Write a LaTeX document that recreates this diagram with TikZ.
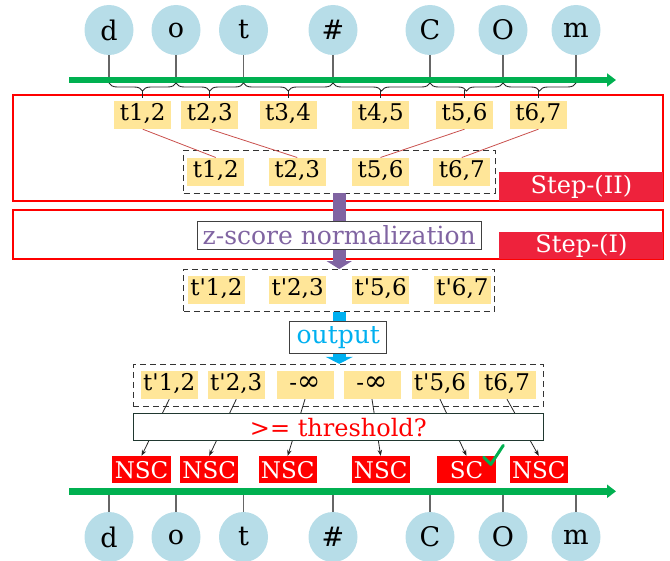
\documentclass[tikz,border=0pt]{standalone}
\usepackage{fontspec}
\setmainfont{DejaVu Serif}
\usetikzlibrary{arrows.meta,decorations.pathreplacing,shapes.geometric}

\definecolor{bubble}{HTML}{B7DDE8}
\definecolor{railgreen}{HTML}{00B050}
\definecolor{tokfill}{HTML}{FFE699}
\definecolor{steplabel}{RGB}{238,34,60}
\definecolor{normpurple}{HTML}{8064A2}
\definecolor{outcyan}{HTML}{00B0F0}
\definecolor{pairline}{HTML}{C9504D}
\definecolor{boxgray}{HTML}{404040}
\definecolor{threshborder}{HTML}{203830}

\newcommand\neginf{-{\fontsize{28}{28}\selectfont ∞}}

\begin{document}
\begin{tikzpicture}[x=1pt,y=-1pt,
  letter/.style={ellipse, fill=bubble, minimum width=49pt, minimum height=50pt,
    inner sep=0pt, font=\fontsize{27}{29}\selectfont},
  stem/.style={draw=black!60, line width=1.1pt},
  rail/.style={draw=railgreen, line width=6.5pt, -{Triangle[length=9pt,width=13pt]}},
  pairbrace/.style={draw=black!85, line width=0.9pt, decorate,
    decoration={brace, mirror, amplitude=8pt}},
  tick/.style={draw=black!85, line width=0.9pt},
  tok/.style={fill=tokfill, minimum width=57pt, minimum height=28pt, inner sep=0pt,
    text height=16pt, text depth=5pt, font=\fontsize{23}{25}\selectfont},
  stepframe/.style={draw=red, line width=1.3pt},
  steptag/.style={fill=steplabel, text=white, inner sep=0pt,
    font=\fontsize{24}{26}\selectfont},
  dashbox/.style={draw=black!80, dash pattern=on 6pt off 4pt, line width=0.9pt},
  pairlink/.style={draw=pairline, line width=0.8pt},
  normarrow/.style={draw=normpurple, line width=13pt, -{Triangle[length=8pt,width=25pt]}},
  outarrow/.style={draw=outcyan, line width=13pt, -{Triangle[length=7pt,width=27pt]}},
  labelbox/.style={draw=boxgray, fill=white, line width=1pt, inner sep=0pt,
    font=\fontsize{25}{27}\selectfont},
  threshbox/.style={draw=threshborder, fill=white, line width=1pt, inner sep=0pt,
    text=red, font=\fontsize{24}{26}\selectfont},
  judge/.style={draw=black!85, line width=0.8pt, -{Stealth[length=6pt,width=4.5pt]}},
  verdict/.style={fill=red, text=white, minimum width=58.4pt, minimum height=27.3pt,
    inner sep=0pt, font=\fontsize{23}{25}\selectfont},
  checkmark/.style={draw=railgreen, line width=3pt, line cap=round, line join=round}
]
\useasboundingbox (0,0) rectangle (670,561);

% character bubbles above and below the two rails
\foreach \n/\x/\c in {1/109/d,2/176/o,3/243.5/t,4/333/\#,5/430/C,6/503/O,7/576/m}{
  \node[letter] (a\n) at (\x,30) {\c};
  \node[letter] (b\n) at (\x,537) {\c};
}

% rails
\coordinate (ra0) at (69,80);   \coordinate (ra1) at (616,80);
\coordinate (rb0) at (69,491.3); \coordinate (rb1) at (616,491.3);
\coordinate (braceline) at (0,83);
\foreach \n in {1,...,7}{
  \draw[stem] (a\n.south) -- (a\n.south |- ra0);
  \draw[stem] (b\n.north) -- (b\n.north |- rb0);
}
\draw[rail] (ra0) -- (ra1);
\draw[rail] (rb0) -- (rb1);

% braces grouping neighbouring characters
\foreach \i/\j in {1/2,2/3,3/4,4/5,5/6,6/7}
  \draw[pairbrace] (a\i.south |- braceline) -- (a\j.south |- braceline);

% Step-(II): bigram scores and selection
\node[stepframe, minimum width=650pt, minimum height=106pt] (frame2) at (338,148) {};
\node[steptag, minimum width=164pt, minimum height=29pt, anchor=south east]
  (tag2) at (frame2.south east) {Step-(II)};

\node[tok] (p12) at (142.7,115) {t1,2};
\node[tok] (p23) at (209.9,115) {t2,3};
\node[tok] (p34) at (288,115)   {t3,4};
\node[tok] (p45) at (380.8,115) {t4,5};
\node[tok] (p56) at (464.5,115) {t5,6};
\node[tok] (p67) at (538.4,115) {t6,7};

\foreach \k in {12,23,34,45,56,67}
  \draw[tick] (p\k.north) ++(0,-3) -- ++(0,-8);

\node[dashbox, minimum width=311.5pt, minimum height=42.5pt] (g1) at (339.25,171.75) {};
\node[tok] (q12) at (215.8,171.7) {t1,2};
\node[tok] (q23) at (297.2,171.7) {t2,3};
\node[tok] (q56) at (380.5,171.7) {t5,6};
\node[tok] (q67) at (461.8,171.7) {t6,7};

\draw[pairlink] (p12.south) -- (q12.north);
\draw[pairlink] (p23.south) -- (q23.north);
\draw[pairlink] (p56.south) -- (q56.north);
\draw[pairlink] (p67.south) -- (q67.north);

% Step-(I): normalization
\node[stepframe, minimum width=650pt, minimum height=49pt] (frame1) at (338,234.5) {};
\node[steptag, minimum width=164pt, minimum height=27.5pt, anchor=south east]
  (tag1) at (frame1.south east) {Step-(I)};

\node[dashbox, minimum width=311pt, minimum height=42pt] (g2) at (339.25,290.5) {};
\node[tok] (r12) at (216.4,290.5) {t\textquotesingle 1,2};
\node[tok] (r23) at (297.6,290.5) {t\textquotesingle 2,3};
\node[tok] (r56) at (380.6,290.5) {t\textquotesingle 5,6};
\node[tok] (r67) at (462.4,290.5) {t\textquotesingle 6,7};

\draw[normarrow] (g1.south) -- (g1.south |- g2.north);
\node[labelbox, text=normpurple, minimum width=284.5pt, minimum height=27.8pt]
  (zn) at (339.25,235.4) {z-score normalization};

% output scores
\node[dashbox, minimum width=410pt, minimum height=42.4pt] (g3) at (338.3,385.5) {};
\node[tok] (s1) at (169.3,385) {t\textquotesingle 1,2};
\node[tok] (s2) at (236.3,385) {t\textquotesingle 2,3};
\node[tok] (s3) at (305,385)   {\neginf};
\node[tok] (s4) at (372,385)   {\neginf};
\node[tok] (s5) at (440,385)   {t\textquotesingle 5,6};
\node[tok] (s6) at (507,385)   {t6,7};

\draw[outarrow] (g2.south -| g1.south) -- (g1.south |- g3.north);
\node[labelbox, text=outcyan, minimum width=96.7pt, minimum height=31.6pt]
  (out) at (338.3,337.5) {output};

% decisions
\node[verdict] (n1) at (141.5,469.7) {NSC};
\node[verdict] (n2) at (209.2,469.7) {NSC};
\node[verdict] (n3) at (287.7,469.7) {NSC};
\node[verdict] (n4) at (380.7,469.7) {NSC};
\node[verdict] (n5) at (466.5,469.7) {SC};
\node[verdict] (n6) at (538.8,469.7) {NSC};

\foreach \n in {1,...,6}
  \draw[judge] (s\n.south) -- (n\n.north);

\node[threshbox, minimum width=410pt, minimum height=27pt] (th) at (338.3,427.5) {>= threshold?};

\draw[checkmark] (483.6,457.2) -- (490.8,464.4) -- (503.3,445.4);
\end{tikzpicture}
\end{document}
